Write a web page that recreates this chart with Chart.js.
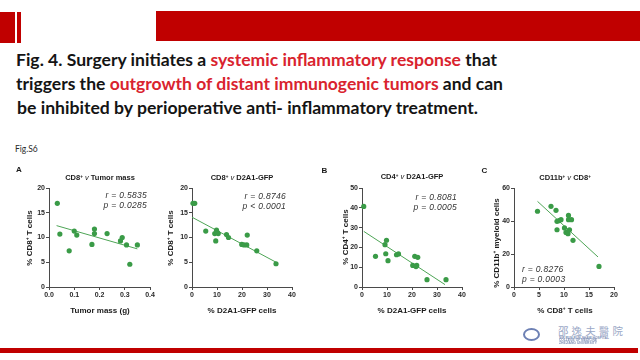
<!DOCTYPE html>
<html><head><meta charset="utf-8">
<script src="https://cdn.jsdelivr.net/npm/chart.js@4.4.1/dist/chart.umd.min.js"></script>
<style>
html,body{margin:0;padding:0;background:#fff;width:640px;height:360px;overflow:hidden;position:relative}
.t{position:absolute;left:0;top:0;white-space:nowrap;line-height:1;font-family:"Liberation Sans",Arial,sans-serif;color:#222}
canvas{position:absolute}
.red{color:#d9232e}
sup{font-size:0.6em;vertical-align:0.55em;line-height:0}
.bar{position:absolute;background:#c00000}
</style></head><body>
<div class="bar" style="left:0;top:12px;width:15px;height:31px"></div>
<div class="bar" style="left:17px;top:12px;width:4px;height:31px"></div>
<div class="bar" style="left:156px;top:11px;width:484px;height:30px"></div>
<div class="bar" style="left:0;top:348px;width:638px;height:5px"></div>
<canvas id="cA" width="160" height="160" style="left:0;top:160px"></canvas>
<canvas id="cB" width="145" height="160" style="left:160px;top:160px"></canvas>
<canvas id="cC" width="155" height="160" style="left:320px;top:160px"></canvas>
<canvas id="cD" width="150" height="160" style="left:480px;top:160px"></canvas>
<div style="position:absolute;left:523px;top:328px;width:17px;height:13px;border:2px solid #6d80b4;border-radius:50%;box-sizing:border-box"></div>
<script>
// ---------- data ----------
// Panel A: CD8+ vs Tumor mass
const tumorMassA = [0.033,0.043,0.08,0.10,0.11,0.17,0.18,0.18,0.23,0.283,0.29,0.307,0.32,0.35];
const cd8A       = [16.9, 10.7, 7.3, 11.3,10.5,8.6, 11.7,10.8,10.8,9.3,  10.0,8.5,  4.6, 8.5];
const fitAx = [0.03, 0.35];
const fitAy = [12.4, 7.7];
// Panel A2: CD8+ vs D2A1-GFP
const gfpB = [0.4, 1.1, 5.5, 9.1, 9.5, 9.8, 10.5, 10.2, 13.8, 14.6, 19.9, 20.8, 21.9, 22.1, 25.9, 33.6];
const cd8B = [16.9,16.9,11.3,10.8,9.3, 11.5,10.8, 11.0, 10.6, 10.0, 8.6,  8.5,  8.5,  10.5, 7.3,  4.7];
const fitBx = [0, 34];
const fitBy = [14.1, 4.9];
// Panel B: CD4+ vs D2A1-GFP
const gfpC = [0.7, 5.4, 9.2, 9.8, 9.5, 10.4, 13.8, 14.6, 20.3, 21.1, 21.9, 22.3, 21.6, 26.0, 33.6];
const cd4C = [40.7,15.5,21.4,23.6,16.8,13.3, 16.3, 16.7, 10.9, 15.5, 10.9, 15.0, 10.3, 3.7,  3.7];
const fitCx = [0.7, 33.2];
const fitCy = [28.1, 1.2];
// Panel C: CD11b+ vs CD8+
const cd8D   = [4.7, 7.4, 8.4, 8.6, 8.6, 9.0, 9.4, 10.1,10.4,10.8,10.9,10.9,11.5,11.1,11.8,17.0];
const cd11bD = [45.9,48.9,46.5,39.8,34.7,40.2,40.8,35.8,33.1,32.3,43.4,40.8,40.8,34.7,28.3,12.5];
const fitDx = [4.7, 16.8];
const fitDy = [51.9, 18.2];
// ticks
const ticksAx = [0, 0.1, 0.2, 0.3, 0.4];
const labelsAx = ["0.0","0.1","0.2","0.3","0.4"];
const ticksCD8y = [0, 5, 10, 15, 20];
const labelsCD8y = ["0","5","10","15","20"];
const ticksGFPx = [0, 10, 20, 30, 40];
const labelsGFPx = ["0","10","20","30","40"];
const ticksCD4y = [0, 10, 20, 30, 40, 50];
const labelsCD4y = ["0","10","20","30","40","50"];
const ticksDx = [0, 5, 10, 15, 20];
const labelsDx = ["0","5","10","15","20"];
const ticksDy = [0, 20, 40, 60];
const labelsDy = ["0","20","40","60"];

// ---------- charts ----------
const PT = '#3a9b47', LN = '#4ea556', AX = '#4a4a4a', TC = '#2a2a2a';
const FF = '"Liberation Sans", Arial, sans-serif';
function pts(xs, ys){ return xs.map((x,i)=>({x:x, y:ys[i]})); }
function axis(min, max, tv, tl, fitFn){
  return {
    type:'linear', min:min, max:max,
    afterBuildTicks: s => { s.ticks = tv.map(v=>({value:v})); },
    afterFit: fitFn,
    grid:{display:true, drawOnChartArea:false, drawTicks:true, tickLength:3, color:AX, tickColor:AX, lineWidth:1},
    border:{display:true, color:AX, width:1},
    ticks:{font:{family:FF, size:7, weight:'bold'}, color:TC, padding:1, maxRotation:0, autoSkip:false,
      callback:(v,i)=>tl[i]}
  };
}
function makeChart(id, xs, ys, fx, fy, xr, yr, yw, pr){
  new Chart(document.getElementById(id), {
    type:'scatter',
    data:{datasets:[
      {data:pts(fx,fy), showLine:true, pointRadius:0, borderColor:LN, borderWidth:1, clip:false, order:2},
      {data:pts(xs,ys), pointRadius:2.6, backgroundColor:PT, borderWidth:0, clip:false, order:1}
    ]},
    options:{
      responsive:false, animation:false, events:[],
      plugins:{legend:{display:false}, tooltip:{enabled:false}},
      layout:{padding:{left:0, top:28, right:pr, bottom:0}},
      scales:{
        x: axis(xr[0], xr[1], xr[2], xr[3], s=>{ s.height = 33; }),
        y: axis(yr[0], yr[1], yr[2], yr[3], s=>{ s.width = yw; })
      }
    }
  });
}
makeChart('cA', tumorMassA, cd8A, fitAx, fitAy, [0,0.4,ticksAx,labelsAx], [0,20,ticksCD8y,labelsCD8y], 49, 10);
makeChart('cB', gfpB, cd8B, fitBx, fitBy, [0,40,ticksGFPx,labelsGFPx], [0,20,ticksCD8y,labelsCD8y], 32, 13);
makeChart('cC', gfpC, cd4C, fitCx, fitCy, [0,40,ticksGFPx,labelsGFPx], [0,50,ticksCD4y,labelsCD4y], 42, 13);
makeChart('cD', cd8D, cd11bD, fitDx, fitDy, [0,20,ticksDx,labelsDx], [0,60,ticksDy,labelsDy], 34, 16);

// ---------- text ----------
function mk(html, css){
  const el = document.createElement('div'); el.className = 't'; el.innerHTML = html;
  Object.assign(el.style, css || {});
  document.body.appendChild(el);
  const m = document.createElement('span'); m.style.display='inline-block'; m.style.width='0'; m.style.height='0';
  el.appendChild(m);
  const base = m.getBoundingClientRect().bottom - el.getBoundingClientRect().top;
  const r = el.getBoundingClientRect();
  return {el, base, w:r.width, h:r.height};
}
function put(html, x, baseline, align, css, targetW){
  const o = mk(html, css);
  let w = o.w;
  if (targetW){ o.el.style.transformOrigin = '0 0'; o.el.style.transform = 'scaleX(' + (targetW/o.w) + ')'; w = targetW; }
  let left = align==='center' ? x - w/2 : align==='right' ? x - w : x;
  o.el.style.left = left + 'px'; o.el.style.top = (baseline - o.base) + 'px';
}
function putRot(html, cx, cy, css){
  const o = mk(html, css);
  o.el.style.left = (cx - o.w/2) + 'px'; o.el.style.top = (cy - o.h/2) + 'px';
  o.el.style.transform = 'rotate(-90deg)';
}
const HF = {fontFamily:'Lato, "Open Sans", sans-serif', fontWeight:'bold', fontSize:'17.5px', color:'#141414'};
put('Fig. 4. Surgery initiates a <span class="red">systemic inflammatory response</span> that', 16, 66, 'left', HF, 481);
put('triggers the <span class="red">outgrowth of distant immunogenic tumors</span> and can', 16, 90, 'left', HF, 487);
put('be inhibited by perioperative anti- inflammatory treatment.', 16.5, 113.5, 'left', HF, 461);
put('Fig.S6', 15, 152, 'left', {fontFamily:'Lato, sans-serif', fontSize:'8.5px', color:'#2a2a2a'});

const PL = {fontWeight:'bold', fontSize:'8px', color:'#1a1a1a'};
put('A', 16, 172, 'left', PL);
put('B', 321.5, 173, 'left', PL);
put('C', 481.5, 172.5, 'left', PL);

const TT = {fontWeight:'bold', fontSize:'7.5px', color:'#1a1a1a'};
put('CD8<sup>+</sup> <i style="font-weight:normal">v</i> Tumor mass', 100, 180, 'center', TT);
put('CD8<sup>+</sup> <i style="font-weight:normal">v</i> D2A1-GFP', 242, 180, 'center', TT);
put('CD4<sup>+</sup> <i style="font-weight:normal">v</i> D2A1-GFP', 412, 179, 'center', TT);
put('CD11b<sup>+</sup> <i style="font-weight:normal">v</i> CD8<sup>+</sup>', 565, 180, 'center', TT);

const XT = {fontWeight:'bold', fontSize:'8px', color:'#1a1a1a'};
put('Tumor mass (g)', 100, 313, 'center', XT);
put('% D2A1-GFP cells', 242, 313, 'center', XT);
put('% D2A1-GFP cells', 412, 313, 'center', XT);
put('% CD8<sup>+</sup> T cells', 565, 313, 'center', XT);
putRot('% CD8<sup>+</sup> T cells', 29.5, 238, XT);
putRot('% CD8<sup>+</sup> T cells', 170.5, 238, XT);
putRot('% CD4<sup>+</sup> T cells', 346, 237, XT);
putRot('% CD11b<sup>+</sup> myeloid cells', 496.5, 243, XT);

const RP = {fontStyle:'italic', fontSize:'8.5px', color:'#333', letterSpacing:'0.3px'};
put('r = 0.5835', 147, 198, 'right', RP);
put('p = 0.0285', 147, 208, 'right', RP);
put('r = 0.8746', 286, 199, 'right', RP);
put('p &lt; 0.0001', 286, 209, 'right', RP);
put('r = 0.8081', 457, 200, 'right', RP);
put('p = 0.0005', 457, 209.5, 'right', RP);
put('r = 0.8276', 522, 272, 'left', RP);
put('p = 0.0003', 522, 282, 'left', RP);

// logo
put('邵逸夫醫院', 558, 335, 'left', {fontFamily:'"Noto Sans CJK TC", sans-serif', fontSize:'10px', color:'#9aa7c6', letterSpacing:'3px'}, 68);
const LG = {fontSize:'3.2px', color:'#7f8fb5', fontWeight:'bold'};
put('SIR RUN RUN SHAW HOSPITAL', 559, 338.5, 'left', LG, 50);
put('COLLEGE OF MEDICINE', 559, 341, 'left', LG, 38);
put('ZHEJIANG UNIVERSITY', 559, 343.5, 'left', LG, 38);
</script>
</body></html>
